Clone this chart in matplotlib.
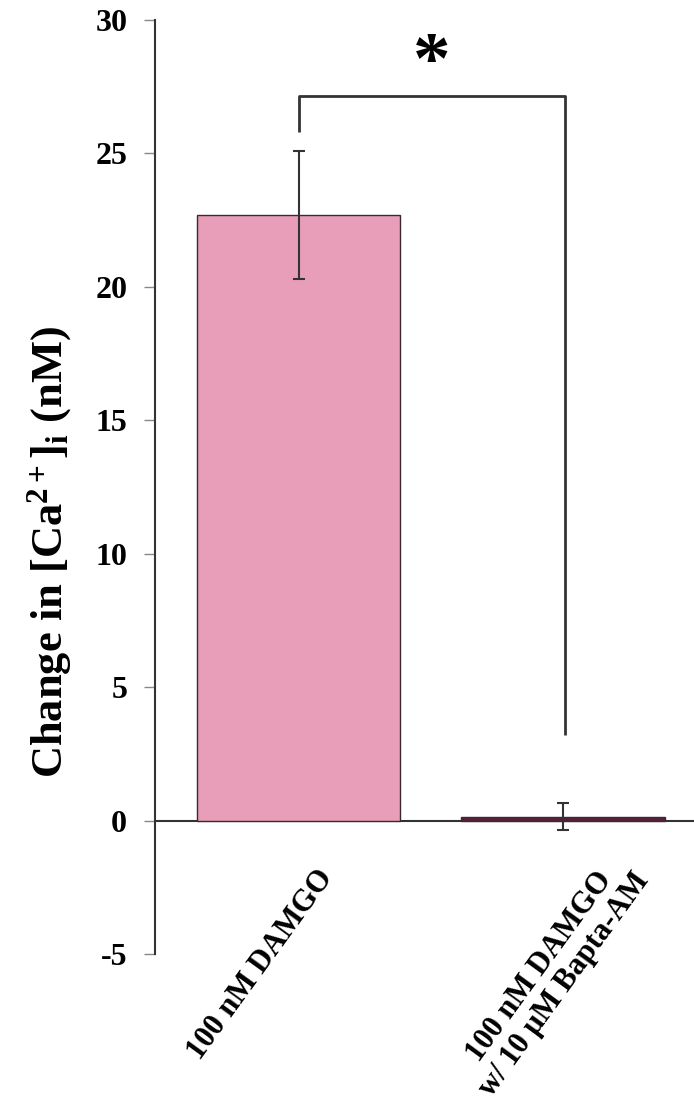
import matplotlib
matplotlib.use("Agg")
import matplotlib.pyplot as plt
import matplotlib.transforms as mtransforms

plt.rcParams['font.family'] = ['Liberation Serif', 'DejaVu Serif']
plt.rcParams['font.weight'] = 'bold'
plt.rcParams['mathtext.fontset'] = 'custom'
plt.rcParams['mathtext.rm'] = 'Liberation Serif:bold'
plt.rcParams['mathtext.it'] = 'Liberation Serif:bold'
plt.rcParams['mathtext.bf'] = 'Liberation Serif:bold'

categories = ["100 nM DAMGO", "100 nM DAMGO\nw/ 10 \u03bcM Bapta-AM"]
values = [22.7, 0.15]
errors = [2.4, 0.5]
bar_colors = ["#E89DB9", "#5A1E3C"]
yticks = [-5, 0, 5, 10, 15, 20, 25, 30]
bracket_x = [0, 0, 1.008, 1.008]
bracket_y = [25.8, 27.15, 27.15, 3.2]
star_pos = (0.505, 28.3)

fig = plt.figure(figsize=(6.94, 11.11), dpi=100)
ax = fig.add_axes([0.2233, 0.1413, 0.7767, 0.982 - 0.1413])

x = list(range(len(categories)))
ax.bar(x, values, width=0.77, color=bar_colors, edgecolor="#3a2a30", linewidth=1.0, zorder=2)
ax.errorbar(x, values, yerr=errors, fmt='none', ecolor='#333333', elinewidth=1.5,
            capsize=4, capthick=1.5, zorder=3)
ax.axhline(0, color='#333333', lw=1.5, zorder=1)

ax.plot(bracket_x, bracket_y, color='#333333', lw=2, solid_capstyle='butt', zorder=3)
ax.text(star_pos[0], star_pos[1], "*", ha='center', va='center', fontsize=54,
        fontweight='bold')

ax.set_xlim(-0.5426, 1.495)
ax.set_ylim(-5, 30)
ax.set_yticks(yticks)
ax.set_yticklabels([str(t) for t in yticks], fontsize=23, fontweight='bold')
for s in ['top', 'right', 'bottom']:
    ax.spines[s].set_visible(False)
ax.spines['left'].set_color('#333333')
ax.spines['left'].set_linewidth(1.5)
ax.tick_params(axis='y', direction='out', length=8, width=1.0, color='#888888', pad=12)
ax.tick_params(axis='x', length=0)

ax.set_xticks(x)
ax.set_xticklabels(categories, rotation=54, rotation_mode='anchor', ha='right', va='center',
                   fontsize=22, fontweight='bold', multialignment='center', linespacing=1.1)
offsets = [(29, 86), (68, 92)]
for lab, (dx, dy) in zip(ax.get_xticklabels(), offsets):
    lab.set_transform(lab.get_transform() + mtransforms.ScaledTranslation(dx / 100, dy / 100, fig.dpi_scale_trans))

ax.set_ylabel(r"Change in [Ca$^{\mathregular{2+}}$]$_{\mathregular{i}}$ (nM)", fontsize=32, fontweight='bold')
ax.yaxis.set_label_coords(-0.15, 0.43)

fig.savefig("out.png", dpi=100)
